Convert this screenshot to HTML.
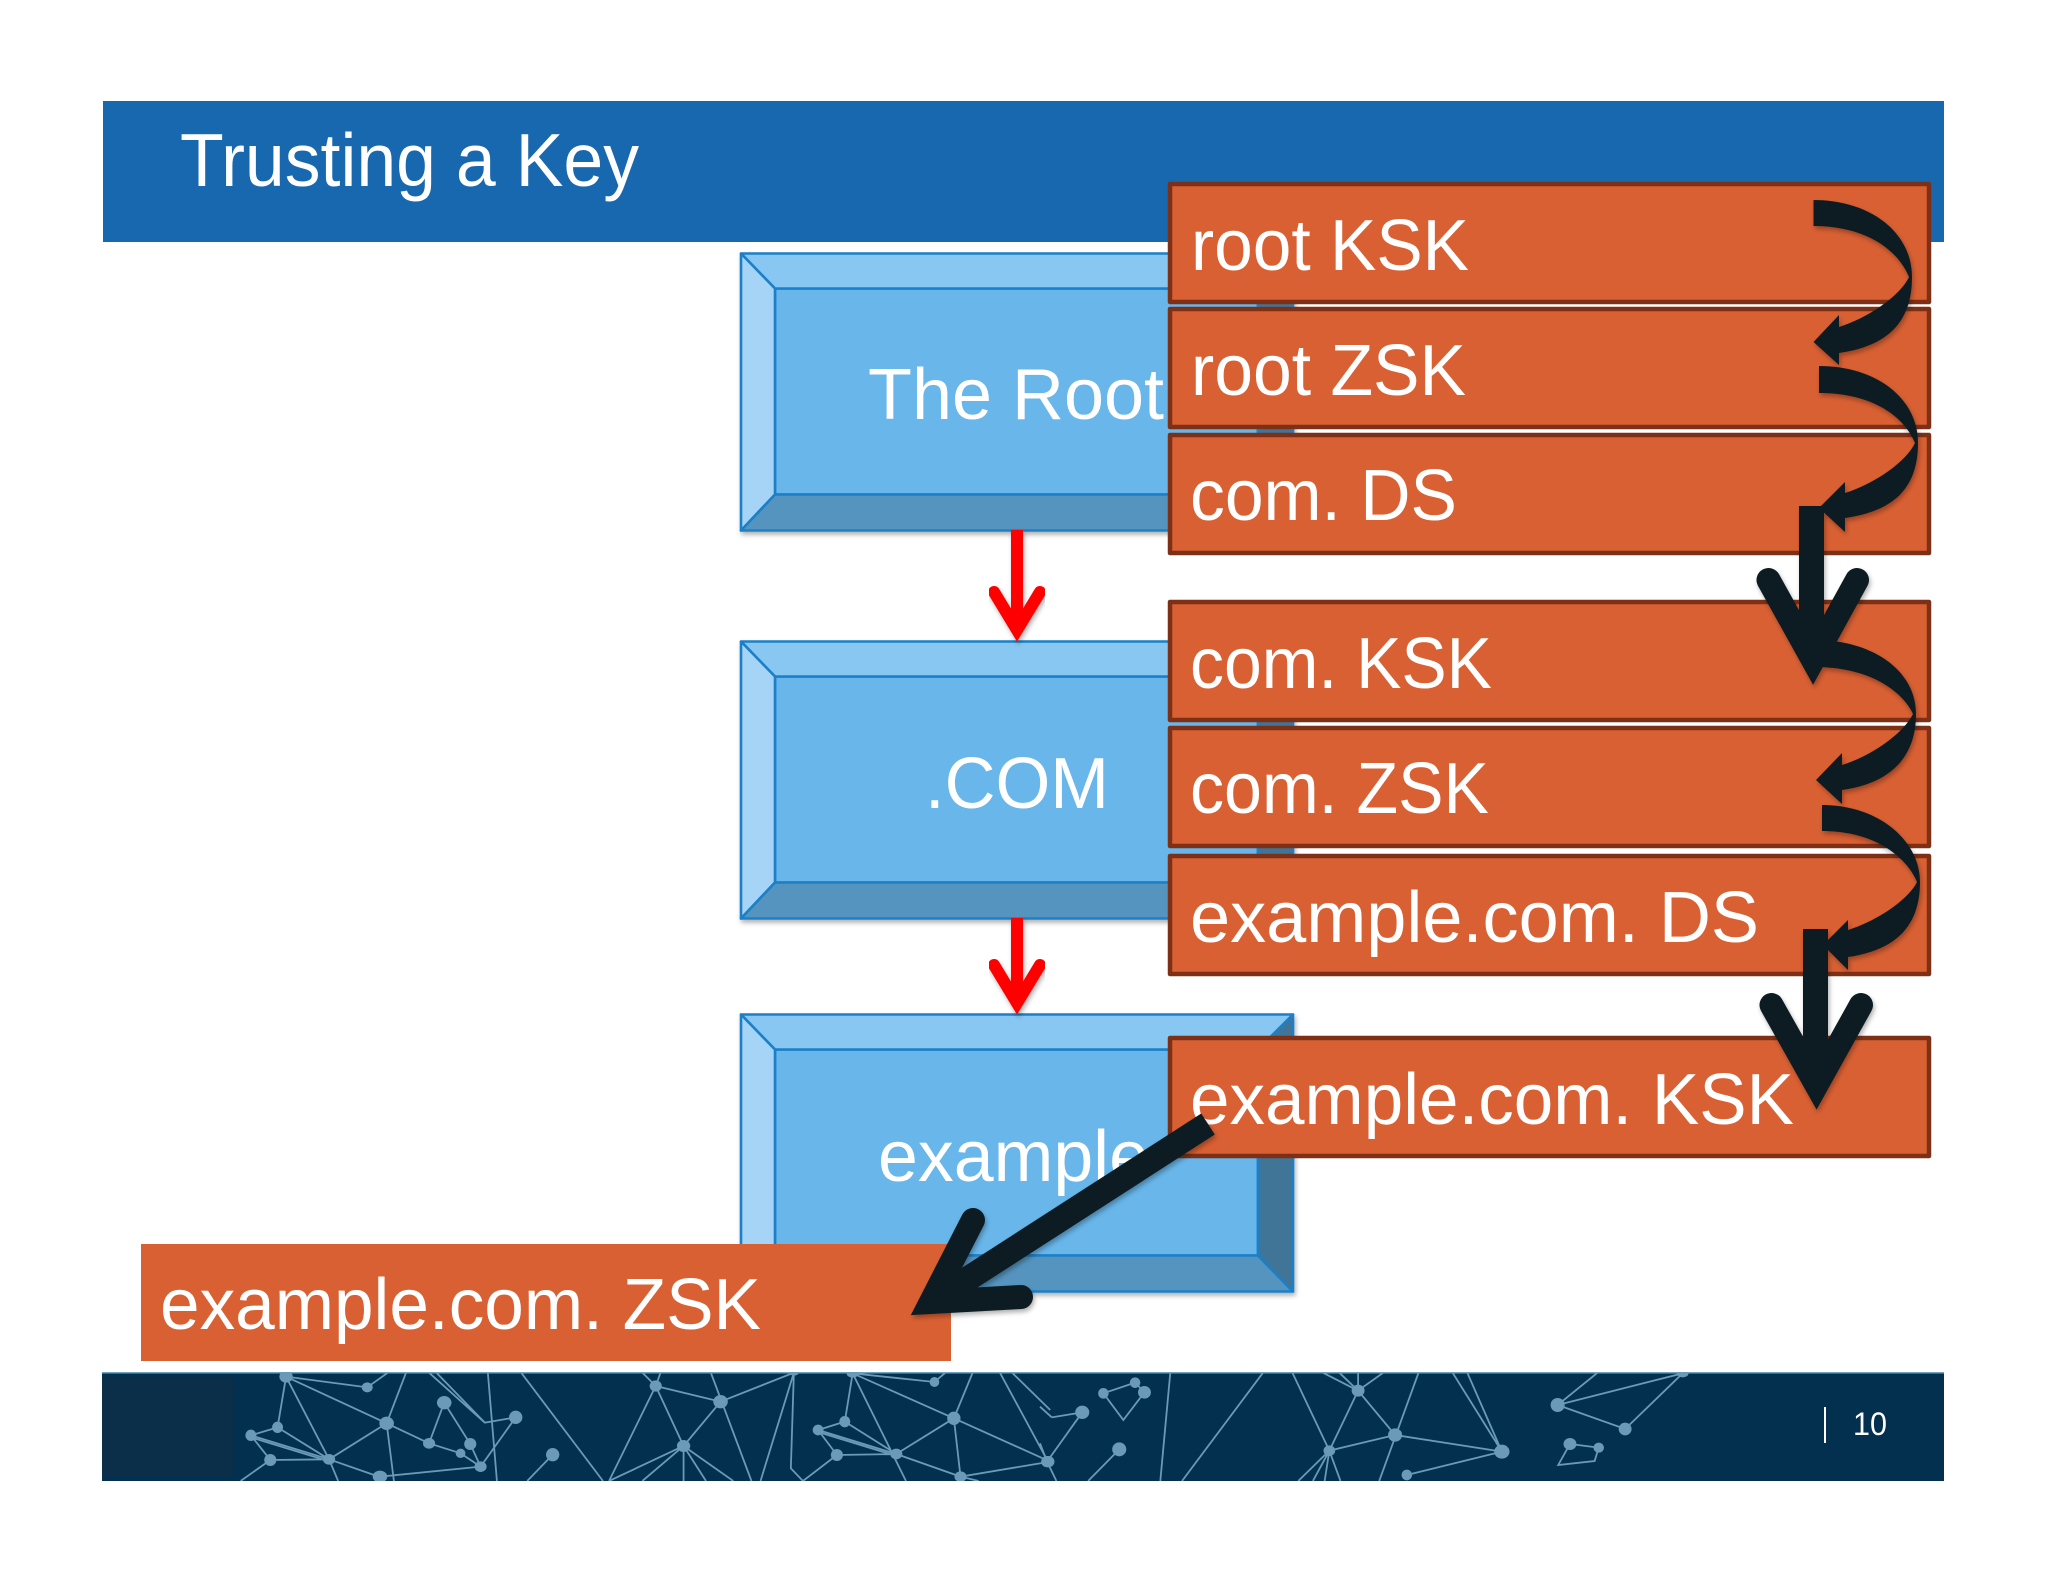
<!DOCTYPE html>
<html><head><meta charset="utf-8"><title>Trusting a Key</title>
<style>html,body{margin:0;padding:0;background:#fff}svg{display:block}
text{font-family:"Liberation Sans",sans-serif;fill:#fff}</style></head>
<body>
<svg xmlns="http://www.w3.org/2000/svg" width="2048" height="1582" viewBox="0 0 2048 1582">
<defs>
<filter id="sh" x="-10%" y="-10%" width="120%" height="120%"><feDropShadow dx="1.5" dy="3" stdDeviation="2.5" flood-color="#000" flood-opacity=".3"/></filter>
<g id="bx" stroke="#1b80c8" stroke-width="2.6" stroke-linejoin="round">
<rect x="775" y="35" width="483" height="206" fill="#68b6ea"/>
<polygon points="741,0 1293,0 1258,35 775,35" fill="#88c7f1"/>
<polygon points="741,0 775,35 775,241 741,277" fill="#a6d4f6"/>
<polygon points="741,277 775,241 1258,241 1293,277" fill="#5494bf"/>
<polygon points="1293,0 1258,35 1258,241 1293,277" fill="#417497"/>
</g>
</defs>
<rect width="2048" height="1582" fill="#fff"/>
<rect x="103" y="101" width="1841" height="141" fill="#1868b0"/>
<text x="180" y="186" font-size="75" textLength="459" lengthAdjust="spacingAndGlyphs">Trusting a Key</text>

<use href="#bx" y="253.5" filter="url(#sh)"/>
<use href="#bx" y="641.5" filter="url(#sh)"/>
<use href="#bx" y="1014.5" filter="url(#sh)"/>
<text x="868" y="419" font-size="72" textLength="296" lengthAdjust="spacingAndGlyphs">The Root</text>
<text x="925" y="808" font-size="72" textLength="184" lengthAdjust="spacingAndGlyphs">.COM</text>
<text x="878" y="1181" font-size="72" textLength="271" lengthAdjust="spacingAndGlyphs">example</text>

<g fill="none" stroke="#fe0000" stroke-width="12" filter="url(#sh)">
<path d="M1017 530V632"/><path d="M994 592L1017 630L1040 592" stroke-linecap="round" stroke-miterlimit="10"/>
<path d="M1017 918V1005"/><path d="M994 965L1017 1003L1040 965" stroke-linecap="round" stroke-miterlimit="10"/>
</g>

<g fill="#d96033" stroke="#7d3015" stroke-width="4.5" stroke-linejoin="round">
<rect x="1170" y="184" width="759" height="118"/>
<rect x="1170" y="309" width="759" height="118"/>
<rect x="1170" y="435" width="759" height="118"/>
<rect x="1170" y="602" width="759" height="118"/>
<rect x="1170" y="728" width="759" height="118"/>
<rect x="1170" y="856" width="759" height="118"/>
<rect x="1170" y="1038" width="759" height="118"/>
</g>
<rect x="141" y="1244" width="810" height="117" fill="#d96033"/>
<g font-size="72">
<text x="1191" y="270" textLength="278" lengthAdjust="spacingAndGlyphs">root KSK</text>
<text x="1191" y="395" textLength="275" lengthAdjust="spacingAndGlyphs">root ZSK</text>
<text x="1190" y="520" textLength="267" lengthAdjust="spacingAndGlyphs">com. DS</text>
<text x="1190" y="688" textLength="302" lengthAdjust="spacingAndGlyphs">com. KSK</text>
<text x="1190" y="813" textLength="299" lengthAdjust="spacingAndGlyphs">com. ZSK</text>
<text x="1190" y="942" textLength="569" lengthAdjust="spacingAndGlyphs">example.com. DS</text>
<text x="1190" y="1124" textLength="604" lengthAdjust="spacingAndGlyphs">example.com. KSK</text>
<text x="160" y="1329" textLength="601" lengthAdjust="spacingAndGlyphs">example.com. ZSK</text>
</g>

<!-- footer -->
<rect x="102" y="1372" width="1842" height="109" fill="#03304f"/>
<rect x="102" y="1372" width="1842" height="1.5" fill="#6fa3bf"/>
<rect x="102" y="1378" width="131" height="98" fill="#0b2f49"/>
<svg x="102" y="1372" width="1842" height="109" viewBox="102 1372 1842 109">
<g transform="translate(100 1360) scale(.606 .3333)">
<g fill="none" stroke="#6a9ab8">
<path vector-effect="non-scaling-stroke" stroke-width="1.8" d="M307 50L441 82L475 38M307 50L473 190M307 50L293 202M307 50L378 298M473 190L378 298M473 190L505 38M473 190L543 250M473 190L485 363M543 250L568 128L611 252M543 250L595 280L628 320M611 252L628 320L686 172M543 38L635 188L686 172M555 38L635 188M640 38L655 363M695 38L830 363M249 226L293 202L378 298M249 226L378 298M249 232L378 304M249 226L281 300L378 298M281 300L232 363M378 298L460 350M378 298L393 363M462 350L628 320M747 284L705 363M917 78L840 363M917 78L895 38M917 78L925 38M917 78L963 258M917 78L1024 125L963 258M1024 125L1145 38M1008 38L1075 363M963 258L840 363M963 258L895 363M963 258V363M963 258L1000 363M963 258L1045 363M1145 38L1090 363M1145 38L1140 325L1160 363"/>
<path vector-effect="non-scaling-stroke" stroke-width="1.8" d="M1242 40L1377 66L1395 38M1242 40L1229 185M1242 40L1409 175M1242 40L1330 363M1185 210L1229 185L1314 282M1185 210L1314 282M1185 216L1314 288M1185 210L1216 285L1314 282L1409 175L1440 38M1216 285L1160 363M1409 175L1420 350M1409 175L1568 305M1314 282L1420 350L1568 305M1420 350L1450 363M1485 38L1560 290M1505 38L1568 150"/>
</g>
<g fill="#6a9ab8">
<ellipse cx="307" cy="50" rx="11" ry="18"/><ellipse cx="441" cy="82" rx="9" ry="15"/><ellipse cx="568" cy="128" rx="12" ry="20"/><ellipse cx="686" cy="172" rx="11" ry="20"/><ellipse cx="293" cy="202" rx="9" ry="17"/><ellipse cx="249" cy="226" rx="9" ry="17"/><ellipse cx="473" cy="190" rx="12" ry="20"/><ellipse cx="543" cy="250" rx="10" ry="16"/><ellipse cx="611" cy="252" rx="10" ry="18"/><ellipse cx="595" cy="280" rx="8" ry="14"/><ellipse cx="281" cy="300" rx="10" ry="18"/><ellipse cx="378" cy="298" rx="10" ry="16"/><ellipse cx="628" cy="320" rx="10" ry="16"/><ellipse cx="462" cy="350" rx="12" ry="18"/><ellipse cx="747" cy="284" rx="11" ry="20"/><ellipse cx="917" cy="78" rx="10" ry="17"/><ellipse cx="1024" cy="125" rx="12" ry="20"/><ellipse cx="963" cy="258" rx="11" ry="18"/><ellipse cx="1229" cy="185" rx="9" ry="17"/><ellipse cx="1185" cy="210" rx="9" ry="16"/><ellipse cx="1216" cy="285" rx="10" ry="18"/><ellipse cx="1314" cy="282" rx="10" ry="16"/><ellipse cx="1409" cy="175" rx="11" ry="20"/><ellipse cx="1377" cy="66" rx="8" ry="15"/><ellipse cx="1242" cy="40" rx="10" ry="13"/><ellipse cx="1420" cy="350" rx="10" ry="16"/><ellipse cx="1565" cy="305" rx="10" ry="17"/><ellipse cx="1145" cy="38" rx="8" ry="9"/>
</g>
</g>
<g transform="translate(1040 1360) scale(.5869 .3333)">
<g fill="none" stroke="#6a9ab8">
<path vector-effect="non-scaling-stroke" stroke-width="1.8" d="M162 68L108 100L142 180L178 97L162 68M20 172L72 157L12 305M0 140L20 172M135 268L82 363M0 250L12 305L28 363M222 38L205 363M380 38L242 363M430 38L493 272M645 38L578 363M703 38L787 275M728 38L787 275M542 92L482 38M542 92L510 38M542 92V38M542 92L585 38M542 92L605 225L493 272L542 92M605 225L787 275L625 345M493 272L440 363M493 272L465 363M493 272L485 363M493 272L512 363M882 135L950 38M882 135L1095 40L997 207L882 135M903 252L952 263L945 303L883 315L903 252"/>
</g>
<g fill="#6a9ab8">
<ellipse cx="162" cy="68" rx="9" ry="16"/><ellipse cx="108" cy="100" rx="9" ry="16"/><ellipse cx="178" cy="97" rx="11" ry="19"/><ellipse cx="72" cy="157" rx="12" ry="20"/><ellipse cx="135" cy="268" rx="12" ry="21"/><ellipse cx="12" cy="305" rx="10" ry="17"/><ellipse cx="542" cy="92" rx="11" ry="18"/><ellipse cx="605" cy="225" rx="12" ry="20"/><ellipse cx="493" cy="272" rx="10" ry="16"/><ellipse cx="787" cy="275" rx="13" ry="21"/><ellipse cx="625" cy="345" rx="9" ry="16"/><ellipse cx="882" cy="135" rx="12" ry="21"/><ellipse cx="997" cy="207" rx="11" ry="19"/><ellipse cx="1095" cy="40" rx="10" ry="12"/><ellipse cx="903" cy="252" rx="11" ry="18"/><ellipse cx="952" cy="263" rx="9" ry="15"/>
</g>
</g>
</svg>
<rect x="1824" y="1407" width="2" height="36" fill="#fff"/>
<text x="1853" y="1435" font-size="32" textLength="34" lengthAdjust="spacingAndGlyphs">10</text>

<!-- dark arrows -->
<g filter="url(#sh)">
<g fill="#0c1d22">
<path d="M1813.5 200C1870 200 1912 232 1912 277C1912 322 1888 346 1839 353L1839 365L1813.5 342L1839 315L1839 327C1868 318 1900 296 1909 277C1898 250 1866 226 1813.5 226Z"/>
<path d="M1819 366C1876 366 1918 398 1918 443C1918 488 1894 511 1845 518L1845 532L1819 508L1845 482L1845 493C1874 484 1906 462 1915 443C1904 416 1872 393 1819 393Z"/>
<path d="M1815 640C1872 640 1916 670 1916 714C1916 756 1892 783 1842 790L1842 804L1816 780L1842 753L1842 765C1871 756 1903 734 1913 714C1902 690 1868 667 1815 667Z"/>
<path d="M1822 805C1878 805 1920 840 1920 882C1920 926 1896 950 1848 957L1848 970L1823 945L1848 920L1848 930C1877 921 1908 900 1917 882C1906 856 1874 831 1822 831Z"/>
</g>
<g fill="none" stroke="#0c1d22" stroke-width="24" stroke-miterlimit="12" stroke-linecap="round">
<path d="M1811.5 506V660" stroke-linecap="butt" stroke-width="25"/>
<path d="M1768.5 580L1813 660L1857 580"/>
<path d="M1815.5 929V1085" stroke-linecap="butt" stroke-width="25"/>
<path d="M1771.5 1005L1816.5 1085L1861 1005"/>
<path d="M1208 1124L935 1300" stroke-linecap="butt" stroke-width="25"/>
<path d="M973 1220L931 1302L1021 1297"/>
</g>
</g>
</svg>
</body></html>
